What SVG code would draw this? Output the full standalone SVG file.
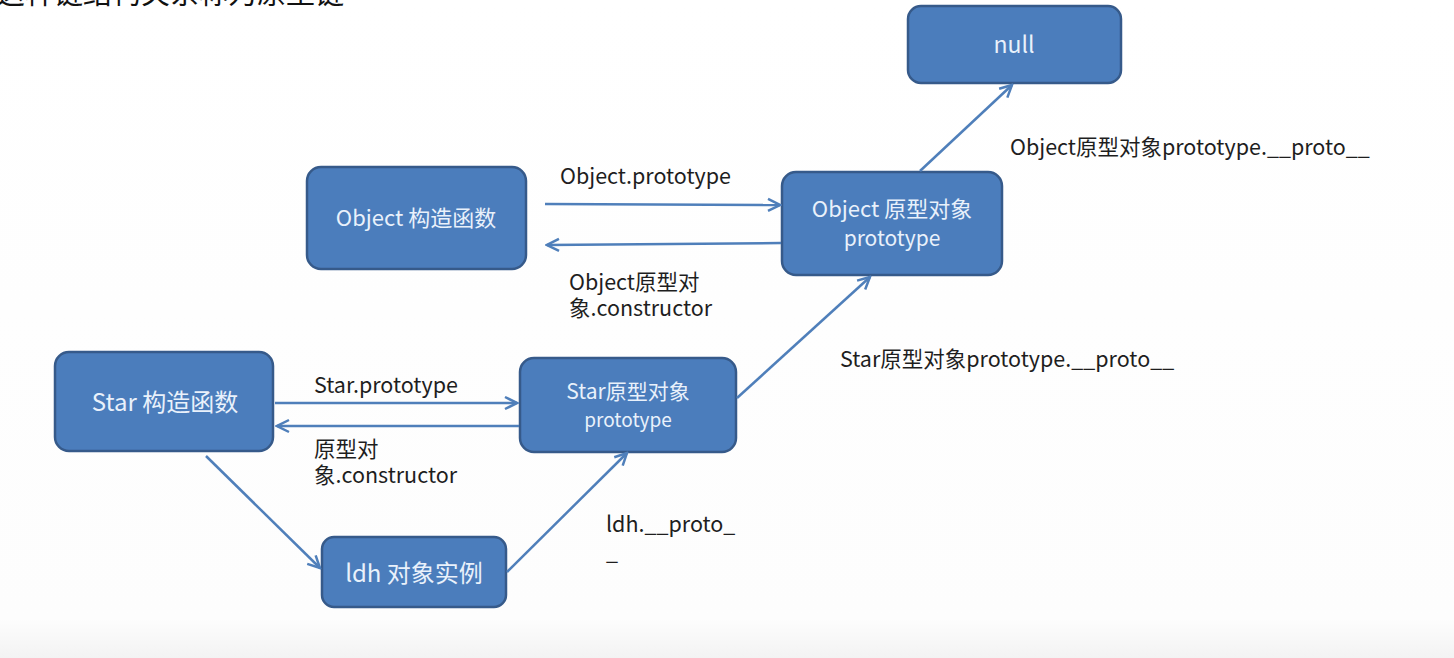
<svg xmlns="http://www.w3.org/2000/svg" width="1454" height="658" viewBox="0 0 1454 658">
<defs>
<linearGradient id="bg" x1="0" y1="0" x2="0" y2="1">
<stop offset="0" stop-color="#ffffff"/>
<stop offset="0.94" stop-color="#fdfdfd"/>
<stop offset="1" stop-color="#f3f3f3"/>
</linearGradient>
<marker id="arr" markerUnits="userSpaceOnUse" markerWidth="16" markerHeight="16" viewBox="0 0 16 16" refX="14" refY="8" orient="auto">
<path d="M2,2 L14,8 L2,14" fill="none" stroke="#4f7fba" stroke-width="2.5" stroke-linejoin="miter"/>
</marker>
</defs>
<style>
.box{fill:#4b7dbc;stroke:#365a8a;stroke-width:2.5}
.bt{fill:#e9f1fb;font-family:"Noto Sans CJK SC","Noto Sans",sans-serif;text-anchor:middle}
.lbl{fill:#1e1e1e;font-family:"Noto Sans CJK SC","Noto Sans",sans-serif;font-size:21.5px}
.ln{stroke:#4f7fba;stroke-width:2.5;fill:none;marker-end:url(#arr)}
</style>
<rect x="0" y="0" width="1454" height="658" fill="url(#bg)"/>
<text x="-4" y="4" class="lbl" style="font-size:29px;fill:#111">这种链结构关系称为原型链</text>

<g id="null">
<rect class="box" x="908" y="6" width="213" height="77" rx="13"/>
<text class="bt" x="1014" y="53" font-size="23">null</text>
</g>
<g id="object-ctor">
<rect class="box" x="307" y="167" width="219" height="102" rx="14"/>
<text class="bt" x="416" y="226" font-size="22">Object 构造函数</text>
</g>
<g id="object-proto">
<rect class="box" x="782" y="172" width="220" height="103" rx="14"/>
<text class="bt" x="892" y="217" font-size="22">Object 原型对象</text>
<text class="bt" x="892" y="246" font-size="21">prototype</text>
</g>
<g id="star-ctor">
<rect class="box" x="55" y="352" width="218" height="99" rx="14"/>
<text class="bt" x="165" y="411" font-size="24">Star 构造函数</text>
</g>
<g id="star-proto">
<rect class="box" x="520" y="358" width="216" height="94" rx="14"/>
<text class="bt" x="628" y="399" font-size="21">Star原型对象</text>
<text class="bt" x="628" y="427" font-size="19">prototype</text>
</g>
<g id="ldh">
<rect class="box" x="322" y="537" width="184" height="70" rx="12"/>
<text class="bt" x="414" y="582" font-size="24">ldh 对象实例</text>
</g>

<g id="connectors">
<line class="ln" x1="545" y1="204" x2="780" y2="205"/>
<line class="ln" x1="781" y1="243" x2="547" y2="245"/>
<line class="ln" x1="920" y1="171" x2="1012" y2="85"/>
<line class="ln" x1="737" y1="398" x2="870" y2="277"/>
<line class="ln" x1="275" y1="403" x2="517" y2="403"/>
<line class="ln" x1="519" y1="426" x2="277" y2="426"/>
<line class="ln" x1="206" y1="456" x2="320" y2="568"/>
<line class="ln" x1="507" y1="572" x2="627" y2="453"/>
</g>

<g id="labels">
<text class="lbl" x="560" y="184">Object.prototype</text>
<text class="lbl" x="569" y="290">Object原型对</text>
<text class="lbl" x="569" y="316">象.constructor</text>
<text class="lbl" x="1010" y="155">Object原型对象prototype.__proto__</text>
<text class="lbl" x="840" y="367">Star原型对象prototype.__proto__</text>
<text class="lbl" x="314" y="393">Star.prototype</text>
<text class="lbl" x="314" y="457">原型对</text>
<text class="lbl" x="314" y="483">象.constructor</text>
<text class="lbl" x="606" y="532">ldh.__proto_</text>
<text class="lbl" x="606" y="560">_</text>
</g>
</svg>
